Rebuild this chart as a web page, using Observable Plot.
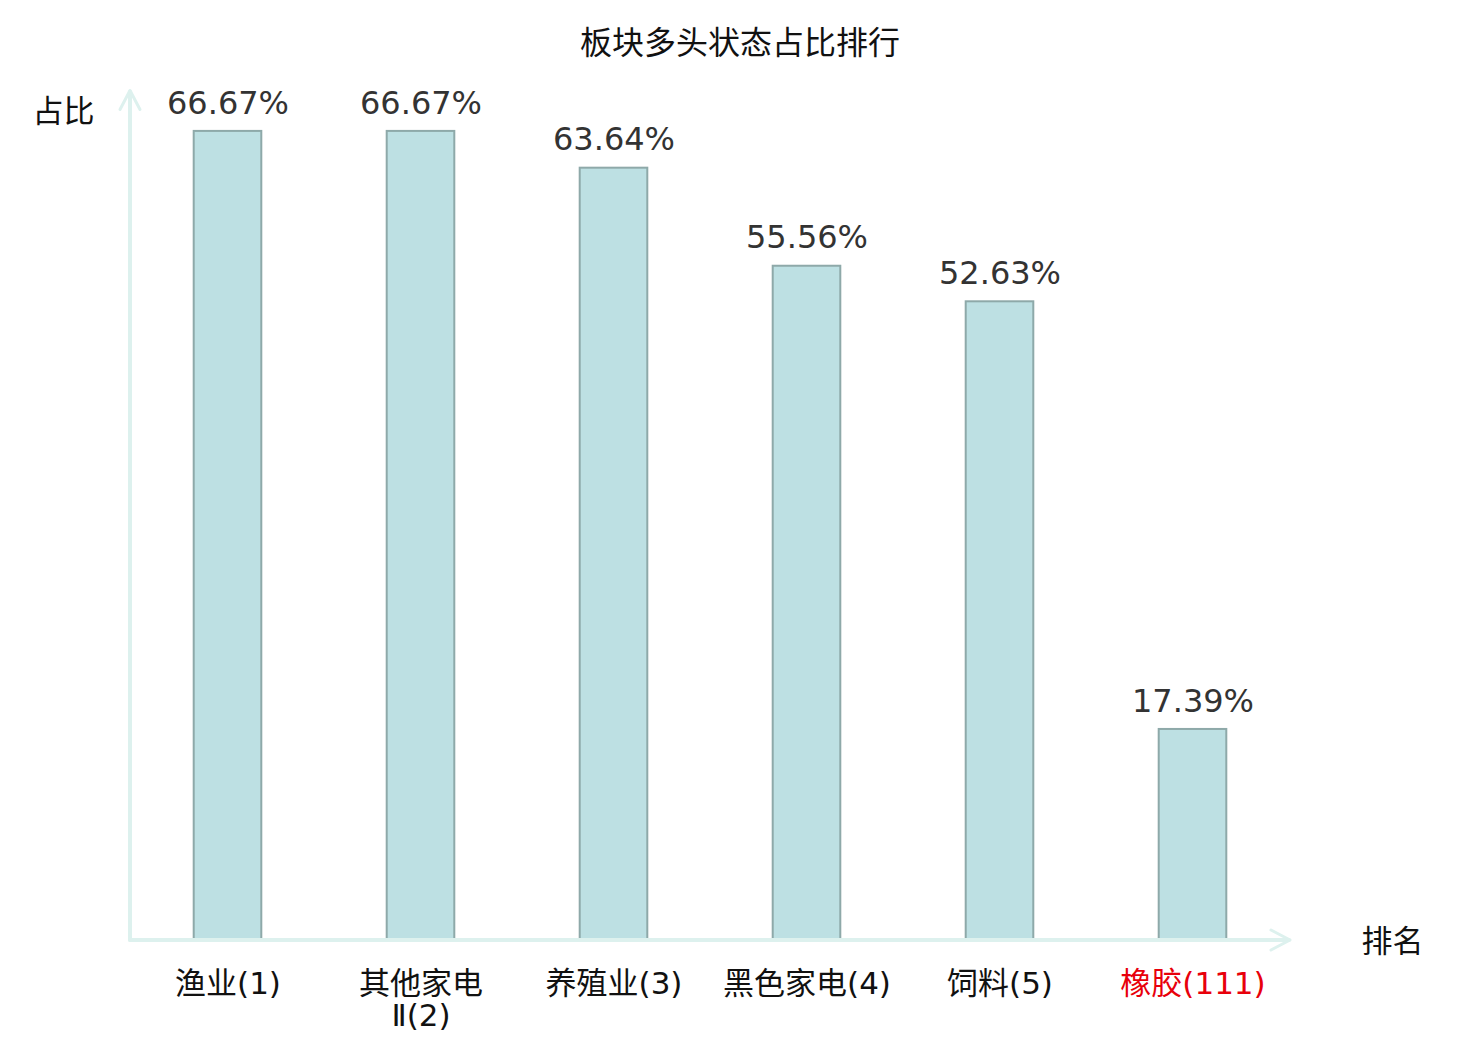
<!DOCTYPE html>
<html>
<head>
<meta charset="utf-8">
<script src="https://cdn.jsdelivr.net/npm/d3@7"></script>
<script src="https://cdn.jsdelivr.net/npm/@observablehq/plot@0.6"></script>
<style>
  html, body { margin: 0; padding: 0; background: #fff; }
  #title { width: 1480px; height: 84px; line-height: 80px; text-align: center;
           font-family: "Noto Sans CJK SC", "DejaVu Sans", sans-serif; font-size: 32px; color: #111; }
  #chart svg { display: block; }
</style>
</head>
<body>
<div id="title">板块多头状态占比排行</div>
<div id="chart"></div>
<script>
const names = ["渔业", "其他家电Ⅱ", "养殖业", "黑色家电", "饲料", "橡胶"];
const ranks = [1, 2, 3, 4, 5, 111];
const values = [66.67, 66.67, 63.64, 55.56, 52.63, 17.39];
const yAxisLabel = "占比";
const xAxisLabel = "排名";

const data = names.map((n, i) => {
  const name = n.length > 4 ? n.slice(0, 4) + "\n" + n.slice(4) : n;
  return { key: n, label: name + "(" + ranks[i] + ")", rank: ranks[i], value: values[i] };
});

const axisColor = "#ddf1ee";
function axesArrows(index, scales, vals, dims) {
  const { width, height, marginLeft, marginRight, marginTop, marginBottom } = dims;
  const x0 = marginLeft, y0 = height - marginBottom, x1 = width - marginRight, y1 = marginTop;
  const g = d3.create("svg:g").attr("fill", "none").attr("stroke", axisColor)
    .attr("stroke-linecap", "round").attr("stroke-linejoin", "round");
  g.append("path").attr("stroke-width", 4).attr("d", `M${x0},${y0}V${y1 + 1}`);
  g.append("path").attr("stroke-width", 4).attr("d", `M${x0},${y0}H${x1 - 1}`);
  g.append("path").attr("stroke-width", 3).attr("d", `M${x0 - 10},${y1 + 19}L${x0},${y1}L${x0 + 10},${y1 + 19}`);
  g.append("path").attr("stroke-width", 3).attr("d", `M${x1 - 19},${y0 - 10}L${x1},${y0}L${x1 - 19},${y0 + 10}`);
  return g.node();
}

const chart = Plot.plot({
  width: 1480,
  height: 956,
  marginLeft: 130,
  marginRight: 190,
  marginTop: 6.5,
  marginBottom: 100,
  style: { fontFamily: "'DejaVu Sans', 'Noto Sans CJK SC', sans-serif", background: "#fff", overflow: "visible" },
  x: { type: "band", domain: data.map(d => d.key), padding: 0, axis: null },
  y: { domain: [0, 70], axis: null },
  marks: [
    Plot.barY(data, { x: "key", y: "value", fill: "#bde0e3", stroke: "#8ea9a9", strokeWidth: 2,
      insetLeft: 62.7, insetRight: 62.7 }),
    axesArrows,
    Plot.text(data, { x: "key", y: "value", text: d => d.value.toFixed(2) + "%", dy: -28,
      fontSize: 32, fill: "#333" }),
    Plot.text(data, { x: "key", text: "label", frameAnchor: "bottom", lineAnchor: "top", dy: 30,
      fontSize: 31, lineHeight: 1.05, fill: d => d.rank > 5 ? "#e8000b" : "#111",
      fontFamily: "'DejaVu Sans', 'Noto Sans CJK SC', sans-serif" }),
    Plot.text([yAxisLabel], { text: d => d, frameAnchor: "top-left", textAnchor: "middle", lineAnchor: "middle",
      dx: -67, dy: 21, fontSize: 31, fill: "#111", fontFamily: "'Noto Sans CJK SC', sans-serif" }),
    Plot.text([xAxisLabel], { text: d => d, frameAnchor: "bottom-right", textAnchor: "middle", lineAnchor: "middle",
      dx: 102, dy: 2, fontSize: 31, fill: "#111", fontFamily: "'Noto Sans CJK SC', sans-serif" })
  ]
});
document.getElementById("chart").appendChild(chart);
</script>
</body>
</html>
